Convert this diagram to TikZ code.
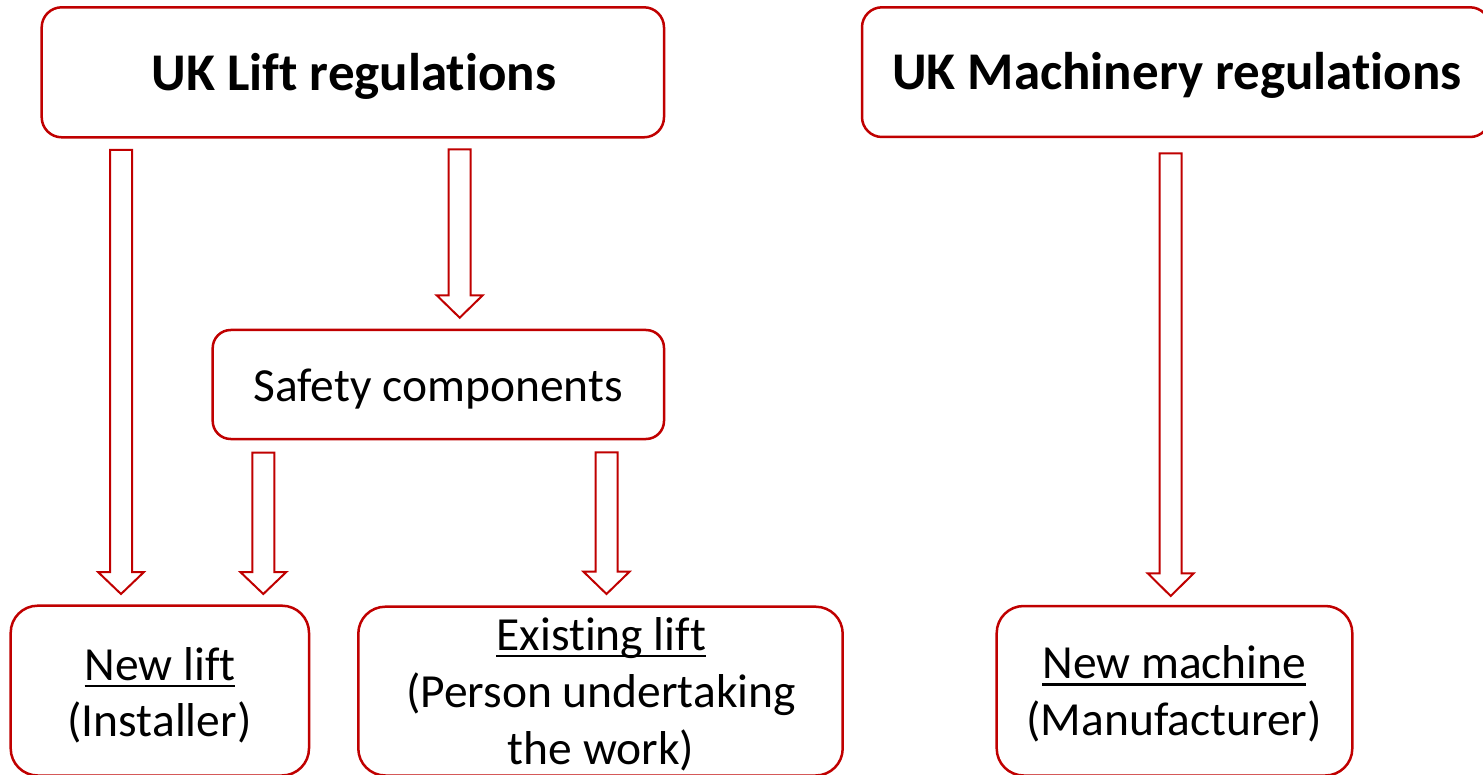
\documentclass[tikz,border=0pt]{standalone}
\usepackage{fontspec}
\setmainfont{Carlito}[Ligatures={NoCommon}]
\definecolor{lred}{HTML}{C00000}
\tikzset{
  box/.style={draw=lred, line width=2.5pt, rectangle, rounded corners=#1, inner sep=0pt},
  box/.default=20pt,
  ttl/.style={font=\fontsize{53}{60}\selectfont\bfseries, anchor=base, inner sep=0pt},
  txt/.style={font=\fontsize{47.5}{56}\selectfont, anchor=base, inner sep=0pt},
  blk/.style={draw=lred, line width=2pt, fill=white, line join=miter}
}
\newcommand\blkarrow[4]{%
  \draw[blk] (#1-11,#2) -- (#1+11,#2) -- (#1+11,#3) -- (#1+23,#3) -- (#1,#4)
    -- (#1-23,#3) -- (#1-11,#3) -- cycle;}
\newcommand\ul[1]{\hbox{\setbox0\hbox{#1}\rlap{\vrule width \wd0 height -4.8pt depth 7.3pt}\box0}}
\begin{document}
\begin{tikzpicture}[x=1pt,y=-1pt]
\useasboundingbox (0,0) rectangle (1483,775);
\clip (0,0) rectangle (1483,775);
\fill[white] (0,0) rectangle (1483,775);
% boxes
\node[box, minimum width=622.3pt, minimum height=130pt] (A) at (352.85,72.3) {};
\node[box, minimum width=628pt, minimum height=129.7pt] (B) at (1176,72.15) {};
\node[box=18pt, minimum width=451.3pt, minimum height=109pt] (S) at (438.35,384.5) {};
\node[box=27pt, minimum width=298.3pt, minimum height=169.8pt] (NL) at (159.85,690.6) {};
\node[box=27pt, minimum width=484.4pt, minimum height=168.8pt] (EL) at (600.5,691.1) {};
\node[box=27pt, minimum width=355.6pt, minimum height=169.5pt] (NM) at (1174.5,690.75) {};
% texts
\node[ttl] (tA) at (354,90.7) {UK Lift regulations};
\node[ttl] (tB) at (1177,90) {UK Machinery regulations};
\node[txt] (tS) at (438,401) {Safety components};
\node[txt] (tNL1) at (160,680) {\ul{New lift}};
\node[txt] (tNL2) at (159.5,736) {(Installer)};
\node[txt] (tEL1) at (601.3,650) {\ul{Existing lift}};
\node[txt] (tEL2) at (601,707.7) {(Person undertaking};
\node[txt] (tEL3) at (601,764) {the work)};
\node[txt] (tNM1) at (1174.3,678.3) {\ul{New machine}};
\node[txt] (tNM2) at (1174.2,735) {(Manufacturer)};
% block arrows
\blkarrow{121}{150}{572}{594}
\blkarrow{459.7}{149.3}{295.3}{317.7}
\blkarrow{263.3}{452.7}{572}{594}
\blkarrow{606.5}{452.3}{571.7}{594}
\blkarrow{1170.7}{153.3}{573.3}{596}
\end{tikzpicture}
\end{document}
